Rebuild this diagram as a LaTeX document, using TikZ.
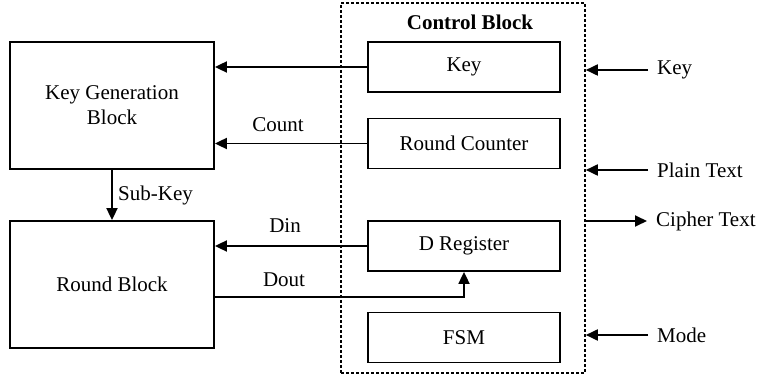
\documentclass[tikz,border=0pt]{standalone}
\usepackage{fontspec}
\setmainfont{Liberation Serif}
\usetikzlibrary{arrows.meta}

\begin{document}
\begin{tikzpicture}[x=1pt,y=-1pt,
  every node/.style={font=\fontsize{21}{25}\selectfont},
  block/.style={draw, line width=1.8pt, align=center, inner sep=0pt},
  bigblock/.style={block, minimum width=204pt, minimum height=127pt},
  subblock/.style={block, minimum width=192pt, minimum height=50pt},
  arr/.style={line width=1.8pt, -{Triangle[length=12pt,width=11pt]}},
  lbl/.style={inner sep=0pt},
  extlbl/.style={anchor=west, inner xsep=9pt, inner ysep=0pt}
]
\useasboundingbox (0,0) rectangle (761,379);

% left-hand blocks
\node[bigblock] (kgb) at (112,105.5) {Key Generation\\Block};
\node[bigblock] (rb)  at (112,284.5) {Round Block};

% control block with its sub-blocks
\node[draw, line width=1.6pt, dash pattern=on 3pt off 2pt,
      minimum width=244pt, minimum height=370pt, inner sep=0pt] (ctrl) at (463,188) {};
\node[lbl, font=\fontsize{21}{25}\selectfont\bfseries] (ctitle) at (470,22) {Control Block};
\node[subblock] (key) at (464,67)    {Key};
\node[subblock] (rc)  at (464,143.5) {Round Counter};
\node[subblock] (dr)  at (464,246)   {D Register};
\node[subblock] (fsm) at (464,337.5) {FSM};

% internal connections
\draw[arr] (key.west) -- (kgb.east |- key.west);
\draw[arr] (rc.west) -- (kgb.east |- rc.west);
\node[lbl] (lcount) at (278,125) {Count};

\draw[arr] (kgb.south) -- (rb.north);
\node[lbl, anchor=west] (lsub) at (118,195) {Sub-Key};

\draw[arr] (dr.west) -- (rb.east |- dr.west);
\node[lbl] (ldin) at (285,226) {Din};

\coordinate (doutc) at (0,297);
\draw[arr] (rb.east |- doutc) -| (dr.south);
\node[lbl] (ldout) at (284,280) {Dout};

% external signals
\node[extlbl] (xkey)    at (648,70)  {Key};
\node[extlbl] (xplain)  at (648,170) {Plain Text};
\node[extlbl] (xcipher) at (647,221) {Cipher Text};
\node[extlbl] (xmode)   at (648,335) {Mode};

\draw[arr] (xkey.west) -- (ctrl.east |- xkey.west);
\draw[arr] (xplain.west) -- (ctrl.east |- xplain.west);
\draw[arr] (ctrl.east |- xcipher.west) -- (xcipher.west);
\draw[arr] (xmode.west) -- (ctrl.east |- xmode.west);
\end{tikzpicture}
\end{document}
